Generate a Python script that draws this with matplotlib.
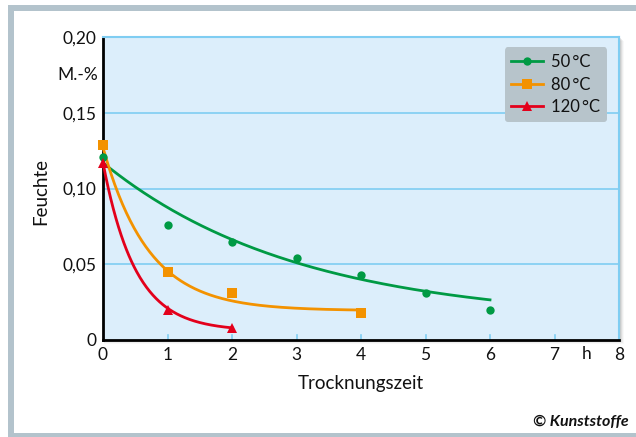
import numpy as np
import matplotlib
matplotlib.use("Agg")
import matplotlib.pyplot as plt
from matplotlib.patches import Rectangle
from matplotlib.lines import Line2D

plt.rcParams['font.family'] = ['Lato', 'DejaVu Sans']

# Measured moisture content (M.-%) over drying time (h)
t_50 = [0, 1, 2, 3, 4, 5, 6]
m_50 = [0.121, 0.076, 0.065, 0.054, 0.043, 0.031, 0.020]
t_80 = [0, 1, 2, 4]
m_80 = [0.129, 0.045, 0.031, 0.018]
t_120 = [0, 1, 2]
m_120 = [0.117, 0.020, 0.008]

# Exponential trend lines: m(t) = a * exp(-b t) + c
fit_50 = (0.105, 0.33, 0.012)
fit_80 = (0.1076, 1.41, 0.0194)
fit_120 = (0.111, 2.0, 0.006)

labels = ['50\u2009°C', '80\u2009°C', '120\u2009°C']
colors = ['#009a44', '#f39200', '#e3001b']
markers = ['o', 's', '^']
msizes = [6.0, 6.5, 7.0]

x_ticks = [0, 1, 2, 3, 4, 5, 6, 7, 8]
x_ticklabels = ['0', '1', '2', '3', '4', '5', '6', '7', '8']
y_ticks = [0, 0.05, 0.10, 0.15, 0.20]
y_ticklabels = ['0', '0,05', '0,10', '0,15', '0,20']

TXT = '#111111'
FS = 12.5

W, H = 636, 437
fig = plt.figure(figsize=(W / 100, H / 100), dpi=100)
fig.patch.set_facecolor('white')

# outer frame
frame_col = '#b3c3cc'
for rect in [(8 / W, 0, 6 / W, 1 - 5 / H),
             (8 / W, 1 - 11 / H, 1, 6 / H),
             (8 / W, 0, 1, 4 / H)]:
    fig.patches.append(Rectangle(rect[:2], rect[2], rect[3], transform=fig.transFigure,
                                 facecolor=frame_col, edgecolor='none', zorder=-2))

ax_l, ax_r, ax_t, ax_b = 103, 619, 37, 340
pos = [ax_l / W, 1 - ax_b / H, (ax_r - ax_l) / W, (ax_b - ax_t) / H]

# soft shadow behind the plot box
for i, a in enumerate([0.14, 0.10, 0.07, 0.04]):
    d = i + 1
    fig.patches.append(Rectangle((pos[0] + 1 / W, pos[1] - d / H), pos[2] + d / W, pos[3],
                                 transform=fig.transFigure, facecolor='#606060',
                                 edgecolor='none', alpha=a, zorder=-1))

ax = fig.add_axes(pos)
ax.set_zorder(2)
ax.set_facecolor('#dceefb')
ax.set_xlim(0, 8)
ax.set_ylim(0, 0.20)

grid_col = '#7fcdf2'
for yv in y_ticks[1:-1]:
    ax.axhline(yv, color=grid_col, lw=1.2, zorder=1)

for s in ['top', 'right']:
    ax.spines[s].set_color(grid_col)
    ax.spines[s].set_linewidth(1.5)
for s in ['left', 'bottom']:
    ax.spines[s].set_color('black')
    ax.spines[s].set_linewidth(2.0)

# inner tick marks on the time axis
for xv in x_ticks[1:-1]:
    ax.plot([xv, xv], [0, 0.0035], color=grid_col, lw=1.2, zorder=1, clip_on=False)

ax.set_xticks(x_ticks)
ax.set_xticklabels(x_ticklabels)
ax.set_yticks(y_ticks)
ax.set_yticklabels(y_ticklabels)
ax.tick_params(axis='both', length=0, labelsize=FS, colors=TXT)
ax.tick_params(axis='x', pad=5)
ax.tick_params(axis='y', pad=5)

ax.text(7.5, -0.0040, 'h', ha='center', va='top', fontsize=FS, color=TXT)
ax.text(-0.07, 0.175, 'M.-%', ha='right', va='center', fontsize=FS, color=TXT)

series = [(t_50, m_50, fit_50), (t_80, m_80, fit_80), (t_120, m_120, fit_120)]
handles = []
for (tt, mm, (a, b, c)), col, mk, ms, lab in zip(series, colors, markers, msizes, labels):
    tc = np.linspace(0, max(tt), 200)
    ax.plot(tc, a * np.exp(-b * tc) + c, color=col, lw=2.0, zorder=3, clip_on=False)
    ax.plot(tt, mm, linestyle='none', marker=mk, color=col, markersize=ms,
            markeredgewidth=0, zorder=4, clip_on=False)
    handles.append(Line2D([], [], color=col, lw=2.0, marker=mk, markersize=ms,
                          markeredgewidth=0, label=lab))

leg = ax.legend(handles=handles, loc='upper right', bbox_to_anchor=(0.977, 0.966),
                fontsize=12, frameon=True, fancybox=True, handlelength=1.9,
                handletextpad=0.5, borderpad=0.4, labelspacing=0.4,
                borderaxespad=0)
leg.get_frame().set_facecolor('#b7c4cb')
leg.get_frame().set_edgecolor('none')
leg.get_frame().set_alpha(1)
for txt in leg.get_texts():
    txt.set_color(TXT)

fig.text((ax_l + ax_r) / 2 / W, 1 - 383 / H, 'Trocknungszeit', ha='center', va='center',
         fontsize=13.5, color=TXT)
fig.text(41 / W, 1 - 192 / H, 'Feuchte', ha='center', va='center', rotation=90,
         fontsize=13.5, color=TXT)
fig.text(629 / W, 1 - 422 / H, '© Kunststoffe', ha='right', va='center',
         fontsize=11.5, fontweight='bold', fontstyle='italic', color='#111111')

fig.savefig('out.png', dpi=100, facecolor='white')
